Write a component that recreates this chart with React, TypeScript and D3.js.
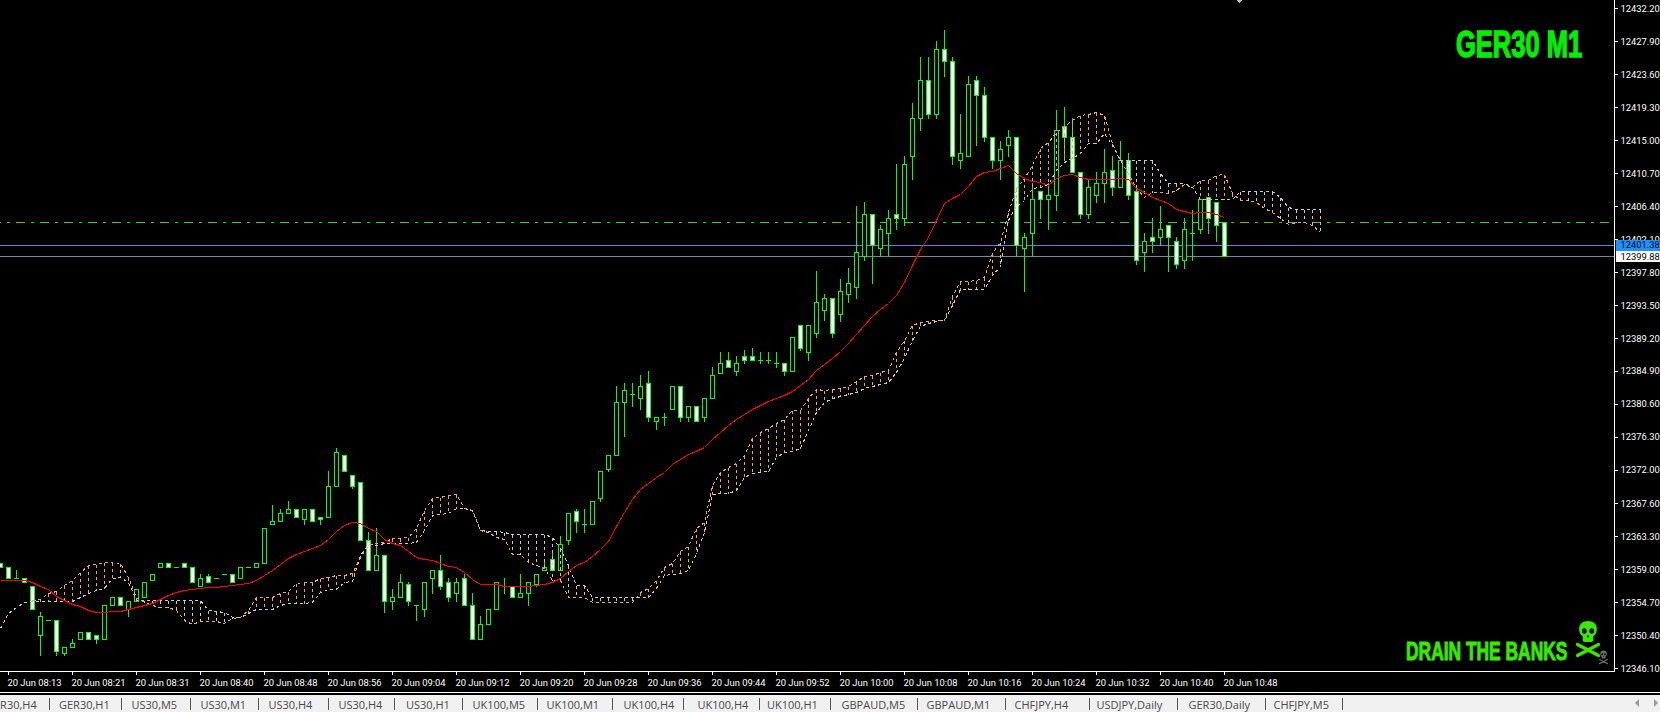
import React from "react";
import * as d3 from "d3";

const OPEN = [12359.88,12359.38,12357.88,12357.88,12356.88,12350.38,12352.38,12352.38,12348.13,12348.88,12349.88,12350.88,12350.38,12349.88,12354.38,12355.38,12353.88,12354.88,12355.38,12357.63,12359.38,12359.88,12359.38,12359.88,12359.38,12356.88,12358.08,12357.88,12358.38,12358.38,12357.88,12359.38,12359.38,12359.88,12364.88,12365.38,12366.38,12366.88,12365.58,12366.88,12365.88,12365.88,12369.88,12373.88,12371.38,12370.38,12362.88,12358.88,12360.88,12354.88,12355.38,12357.08,12354.38,12353.88,12357.88,12358.88,12357.38,12355.88,12357.88,12354.38,12349.88,12351.88,12353.88,12356.88,12356.88,12355.38,12355.88,12357.08,12358.88,12360.38,12358.88,12362.88,12366.58,12364.88,12364.88,12368.38,12372.08,12373.88,12380.88,12381.88,12381.38,12383.38,12378.38,12378.88,12379.88,12382.88,12378.88,12380.38,12378.88,12381.38,12384.58,12386.38,12384.88,12386.88,12386.88,12386.38,12386.38,12385.88,12385.88,12384.88,12390.88,12387.38,12389.88,12392.88,12394.38,12392.38,12394.88,12395.88,12399.88,12405.38,12400.88,12402.88,12405.38,12404.88,12412.88,12417.88,12422.88,12418.38,12426.88,12425.38,12412.38,12412.88,12422.88,12420.88,12415.38,12412.38,12414.38,12415.38,12400.88,12402.88,12408.38,12407.38,12407.88,12416.88,12415.38,12410.88,12405.38,12407.88,12409.38,12411.08,12408.88,12412.38,12408.38,12400.38,12402.38,12402.38,12403.88,12401.88,12399.38,12402.88,12403.38,12407.63,12406.88,12404.38];
const HIGH = [12359.88,12359.38,12358.88,12357.88,12356.88,12353.38,12352.38,12352.38,12348.88,12349.88,12350.88,12350.88,12350.38,12354.38,12355.38,12355.38,12354.88,12356.38,12357.38,12358.38,12359.88,12359.88,12359.38,12359.88,12359.38,12358.38,12358.38,12357.88,12358.38,12358.38,12359.38,12359.38,12359.88,12364.38,12367.38,12366.88,12367.88,12366.88,12366.88,12366.88,12365.88,12371.88,12374.88,12373.88,12371.38,12370.38,12363.88,12364.38,12360.88,12356.38,12358.38,12357.38,12354.38,12357.38,12358.88,12360.88,12357.88,12357.88,12358.38,12355.88,12352.88,12353.88,12357.38,12357.88,12356.88,12358.38,12357.38,12358.38,12360.38,12361.18,12363.38,12366.38,12366.88,12366.88,12367.88,12371.88,12373.88,12382.88,12383.38,12383.38,12384.38,12384.88,12378.88,12379.38,12382.88,12382.88,12380.38,12380.38,12381.38,12385.38,12387.38,12387.38,12386.88,12387.68,12387.88,12387.38,12387.38,12387.38,12385.88,12389.38,12390.88,12390.88,12397.88,12394.88,12394.38,12396.88,12398.38,12406.38,12406.88,12405.38,12403.88,12405.88,12411.88,12412.88,12419.88,12425.88,12425.88,12427.88,12429.38,12425.88,12418.38,12423.38,12423.38,12421.88,12415.38,12414.88,12416.38,12415.38,12402.88,12409.38,12408.38,12409.38,12418.88,12419.38,12417.88,12410.88,12409.88,12410.88,12413.88,12412.88,12414.88,12413.38,12408.88,12402.88,12404.88,12406.38,12403.88,12402.38,12404.88,12405.88,12407.38,12407.63,12406.88,12404.38];
const LOW = [12359.38,12357.88,12357.88,12357.38,12353.88,12347.88,12352.38,12347.88,12347.88,12348.88,12349.88,12349.88,12349.38,12349.88,12354.38,12354.38,12352.88,12354.88,12355.38,12357.63,12359.38,12359.38,12359.38,12359.38,12357.38,12356.88,12357.38,12357.88,12358.38,12357.38,12357.88,12359.38,12359.38,12359.88,12364.88,12365.38,12366.38,12365.88,12364.88,12365.38,12364.88,12365.88,12369.88,12371.88,12369.68,12362.88,12358.88,12358.88,12353.38,12353.88,12355.38,12354.38,12352.38,12352.88,12355.88,12356.38,12354.88,12354.88,12354.38,12349.88,12349.88,12351.88,12353.88,12355.88,12355.38,12355.38,12354.38,12356.88,12358.88,12358.88,12358.88,12362.38,12363.88,12363.88,12364.88,12367.88,12371.88,12373.88,12376.38,12380.38,12379.88,12378.38,12377.38,12377.88,12379.88,12378.38,12378.38,12378.38,12378.38,12381.38,12384.58,12385.38,12384.38,12385.88,12386.38,12385.88,12385.88,12385.38,12384.38,12384.88,12387.68,12386.38,12389.38,12391.58,12389.38,12391.38,12393.88,12394.38,12399.38,12396.38,12399.88,12399.88,12403.38,12403.88,12409.88,12416.38,12417.88,12417.88,12423.38,12411.88,12411.38,12412.88,12414.38,12414.88,12411.38,12409.88,12412.88,12399.88,12395.38,12399.88,12404.88,12403.38,12405.88,12412.38,12410.88,12404.88,12404.88,12406.88,12406.88,12407.88,12408.88,12407.38,12398.88,12397.88,12400.38,12401.38,12397.88,12398.38,12398.38,12399.38,12402.88,12402.88,12401.88,12399.88];
const CLOSE = [12359.38,12357.88,12357.88,12357.38,12353.88,12352.88,12352.38,12348.38,12348.88,12349.38,12350.88,12349.88,12349.88,12354.38,12355.38,12354.38,12354.88,12356.38,12357.38,12358.38,12359.88,12359.38,12359.38,12359.38,12357.38,12357.88,12357.38,12357.88,12358.38,12357.38,12359.38,12359.38,12359.88,12364.38,12365.38,12366.38,12366.88,12365.88,12366.88,12365.38,12365.63,12369.88,12374.38,12371.88,12369.88,12362.88,12358.88,12360.88,12354.88,12355.38,12357.38,12354.88,12354.38,12357.38,12358.88,12356.88,12355.38,12357.38,12354.38,12349.88,12351.88,12353.88,12357.38,12356.88,12355.38,12355.88,12357.38,12358.38,12359.38,12358.88,12362.38,12366.38,12365.38,12364.88,12367.88,12371.88,12373.88,12380.88,12382.38,12381.88,12382.88,12378.88,12378.88,12378.88,12382.88,12378.88,12380.38,12378.38,12381.38,12384.38,12385.88,12385.38,12385.88,12386.38,12386.38,12386.38,12386.38,12385.88,12384.88,12389.38,12387.88,12390.88,12393.88,12394.38,12389.88,12395.38,12396.38,12400.38,12405.38,12401.38,12403.38,12404.88,12404.88,12411.88,12417.88,12422.88,12418.38,12426.88,12425.38,12412.88,12413.38,12422.38,12420.88,12415.38,12412.38,12413.88,12415.38,12401.38,12402.38,12407.38,12407.38,12407.88,12416.38,12415.38,12410.88,12405.38,12408.88,12409.38,12410.88,12408.88,12412.38,12407.88,12399.38,12401.88,12401.88,12403.38,12402.38,12398.88,12403.38,12402.88,12407.38,12404.88,12403.88,12399.88];
const RED_MA = [12357.58,12357.58,12357.66,12357.58,12357.32,12356.80,12356.41,12355.57,12354.97,12354.49,12354.19,12353.71,12353.41,12353.44,12353.61,12353.61,12353.84,12354.14,12354.32,12354.58,12355.10,12355.66,12356.05,12356.31,12356.41,12356.54,12356.67,12356.67,12356.88,12356.97,12357.14,12357.27,12357.58,12358.23,12358.92,12359.71,12360.49,12361.01,12361.44,12361.75,12362.15,12363.01,12363.97,12364.75,12365.15,12365.02,12364.36,12364.05,12363.01,12362.41,12362.15,12361.44,12360.66,12360.40,12360.23,12359.84,12359.41,12359.27,12358.70,12357.75,12357.14,12357.06,12357.06,12356.88,12356.80,12356.80,12356.84,12357.01,12357.14,12357.32,12357.84,12358.79,12359.57,12360.01,12360.75,12361.70,12362.75,12364.62,12366.53,12368.19,12369.45,12370.23,12371.02,12371.75,12372.79,12373.44,12374.06,12374.45,12375.01,12375.97,12376.96,12377.84,12378.62,12379.27,12379.89,12380.45,12381.01,12381.40,12381.75,12382.31,12383.06,12383.84,12385.01,12385.80,12386.58,12387.49,12388.54,12389.71,12390.88,12392.06,12392.97,12393.75,12394.80,12396.45,12398.71,12400.80,12402.40,12404.58,12406.76,12407.41,12407.97,12409.06,12410.36,12410.84,12410.93,12411.33,12411.72,12410.75,12410.02,12409.71,12409.50,12409.19,12410.02,12410.41,12410.54,12410.15,12409.89,12409.89,12409.89,12409.93,12410.02,12409.89,12408.72,12408.19,12407.58,12407.19,12406.76,12405.98,12405.79,12405.49,12405.59,12405.59,12405.36,12404.93];
// first bar of the orange span is bar 4
const SPAN_A_FIRST_BAR = 4;
const SPAN_A = [12355.01,12355.18,12355.96,12356.22,12356.97,12357.62,12358.70,12359.57,12359.71,12360.01,12360.01,12359.88,12358.05,12355.44,12354.79,12354.36,12354.14,12354.06,12353.71,12352.40,12351.88,12352.31,12352.31,12352.23,12352.05,12352.62,12352.83,12353.71,12355.36,12355.44,12355.44,12355.96,12356.22,12357.27,12357.36,12357.32,12357.84,12357.97,12358.23,12358.27,12358.49,12360.66,12362.18,12362.41,12362.62,12363.06,12363.06,12363.19,12364.36,12366.75,12368.36,12368.41,12368.71,12368.80,12366.97,12366.75,12364.14,12363.92,12363.27,12362.93,12361.01,12361.01,12360.01,12359.57,12359.15,12357.62,12357.62,12355.44,12355.36,12355.36,12354.79,12354.71,12354.71,12354.71,12354.71,12354.71,12356.01,12356.54,12357.62,12359.35,12359.80,12361.40,12362.05,12364.36,12365.23,12370.01,12371.75,12372.40,12372.92,12373.93,12376.10,12376.96,12377.41,12378.06,12378.62,12379.80,12379.80,12381.32,12382.57,12382.40,12382.53,12382.67,12382.93,12383.58,12384.23,12384.36,12384.75,12385.01,12387.36,12388.93,12390.88,12391.28,12391.41,12391.54,12391.54,12394.67,12396.66,12396.66,12396.75,12397.18,12400.24,12401.75,12405.62,12408.76,12410.06,12411.76,12413.93,12414.80,12416.10,12416.84,12417.63,12418.28,12418.41,12418.71,12418.28,12414.59,12412.41,12410.67,12408.72,12407.62,12408.28,12408.28,12408.06,12408.49,12409.28,12408.93,12409.80,12409.80,12410.39,12410.58,12408.06,12407.19,12407.19,12406.97,12406.11,12405.66,12404.80,12404.06,12404.36,12404.36,12403.93,12403.05];
const SPAN_B = [12351.32,12353.28,12354.14,12354.79,12354.88,12354.88,12354.88,12354.88,12354.88,12354.88,12355.44,12355.88,12356.31,12356.54,12357.84,12358.05,12357.40,12355.01,12355.01,12355.01,12355.01,12355.01,12355.01,12355.01,12355.01,12355.01,12353.71,12353.61,12353.44,12352.83,12352.83,12353.28,12353.80,12353.80,12353.87,12354.36,12354.58,12354.58,12354.58,12354.79,12356.09,12356.41,12356.41,12357.40,12357.49,12360.88,12362.32,12362.18,12362.41,12362.41,12362.41,12362.49,12362.62,12364.14,12366.10,12366.23,12366.40,12366.97,12366.97,12366.75,12364.14,12364.01,12364.01,12363.92,12363.58,12363.58,12363.58,12363.58,12363.58,12363.27,12361.75,12359.57,12356.97,12356.97,12355.36,12355.36,12355.36,12355.36,12355.36,12355.36,12355.36,12355.36,12356.54,12358.27,12358.36,12358.49,12358.92,12361.10,12363.92,12368.84,12368.93,12368.93,12369.36,12371.09,12371.54,12371.67,12371.84,12373.70,12374.28,12374.45,12374.80,12377.19,12379.57,12380.84,12381.36,12381.62,12381.88,12382.14,12382.67,12382.93,12383.19,12383.45,12384.75,12386.58,12388.93,12390.75,12391.14,12391.41,12391.54,12393.49,12395.54,12395.54,12395.54,12395.54,12397.41,12398.62,12404.58,12406.47,12407.19,12408.72,12408.93,12409.24,12411.10,12412.11,12412.71,12413.28,12414.59,12414.59,12415.89,12414.36,12412.37,12412.37,12412.37,12412.37,12412.37,12410.67,12409.37,12409.37,12409.37,12408.93,12407.32,12407.32,12407.32,12407.32,12407.32,12408.32,12408.32,12408.32,12408.32,12408.32,12407.62,12406.24,12406.06,12406.06,12406.06,12406.06];
const PRICE_LABELS = ["12432.20","12427.90","12423.60","12419.30","12415.00","12410.70","12406.40","12402.10","12397.80","12393.50","12389.20","12384.90","12380.60","12376.30","12372.00","12367.60","12363.30","12359.00","12354.70","12350.40","12346.10"];
const TIME_LABELS = ["20 Jun 08:13","20 Jun 08:21","20 Jun 08:31","20 Jun 08:40","20 Jun 08:48","20 Jun 08:56","20 Jun 09:04","20 Jun 09:12","20 Jun 09:20","20 Jun 09:28","20 Jun 09:36","20 Jun 09:44","20 Jun 09:52","20 Jun 10:00","20 Jun 10:08","20 Jun 10:16","20 Jun 10:24","20 Jun 10:32","20 Jun 10:40","20 Jun 10:48"];
const TIME_LABEL_BARS = TIME_LABELS.map((_, k) => 1 + 8 * k);
const ASK_PRICE = 12401.38;
const BID_PRICE = 12399.88;
const LEVEL_PRICE = 12404.28;
const TAB_LABELS = ["GER30,H4","GER30,H1","US30,M5","US30,M1","US30,H4","US30,H4","US30,H1","UK100,M5","UK100,M1","UK100,H4","UK100,H4","UK100,H1","GBPAUD,M5","GBPAUD,M1","CHFJPY,H4","USDJPY,Daily","GER30,Daily","CHFJPY,M5"];

const W = 1660, H = 712;
const AXIS_X = 1614, AXIS_Y = 671;
const GREEN = "#00ff00", ORANGE = "#f4a460", THISTLE = "#d8bfd8";
const UI_FONT = "Roboto, 'Noto Sans', sans-serif";
const DISPLAY_FONT = "'Liberation Sans', sans-serif";

const y = d3.scaleLinear().domain([12346.1, 12432.2]).range([668.8, 8.8]);
const x = d3.scaleLinear().domain([0, 1]).range([0.5, 8.5]);
const py = (p: number) => Math.round(y(p) - 0.5) + 0.5;

// tab bar layout: left edge of each tab's separator, text follows it
const TAB_SEPS = [49, 121, 189.5, 258, 328, 394, 461.5, 537, 612, 683, 759, 830, 917, 1005, 1089, 1177, 1265, 1342];
const TAB_TEXT = [-14, 59, 131.5, 200.5, 268.5, 338.5, 406, 472.5, 546.5, 623.5, 697.5, 767, 841.5, 926.5, 1014.5, 1096.5, 1188.5, 1273.5];

const lineThrough = d3.line<[number, number]>().x(d => d[0]).y(d => d[1]);

function Skull({ tx, ty, s, fill }: { tx: number; ty: number; s: number; fill: string }) {
  const t = `translate(${tx},${ty}) scale(${s})`;
  return (
    <g transform={t}>
      <path d="M12 0C5 0 2.8 4.5 3.2 9c.2 3 1.5 5 3.5 6.2V19c0 1 1 2 2 2h6.600c1 0 2-1 2-2v-3.800c2-1.200 3.300-3.200 3.500-6.200C21.200 4.500 19 0 12 0Z" fill={fill} />
      <ellipse cx="8.300" cy="10" rx="2.300" ry="2.700" fill="#000" />
      <ellipse cx="15.700" cy="10" rx="2.300" ry="2.700" fill="#000" />
      <rect x="11.200" y="14" width="1.600" height="2.400" fill="#000" />
      <path d="M1.500 23.500 22.500 34.500M22.500 23.500 1.500 34.500" stroke={fill} strokeWidth="3.200" strokeLinecap="round" />
    </g>
  );
}

export default function App() {
  const bars = OPEN.map((o, i) => ({ i, o, h: HIGH[i], l: LOW[i], c: CLOSE[i] }));
  const spanABars = SPAN_A.map((v, k) => [x(k + SPAN_A_FIRST_BAR), py(v)] as [number, number]);
  const spanBBars = SPAN_B.map((v, i) => [x(i), py(v)] as [number, number]);
  const hatch = SPAN_B.map((b, i) => {
    const a = SPAN_A[i - SPAN_A_FIRST_BAR];
    return a === undefined ? null : { i, a, b };
  }).filter(Boolean) as { i: number; a: number; b: number }[];
  const maPts = RED_MA.map((v, i) => [x(i), py(v)] as [number, number]);

  return (
    <svg width={W} height={H} viewBox={`0 0 ${W} ${H}`} style={{ position: "absolute", left: 0, top: 0, display: "block", background: "#000" }}>
      <g shapeRendering="crispEdges">
        <line x1={-8} x2={AXIS_X} y1={py(LEVEL_PRICE)} y2={py(LEVEL_PRICE)} stroke="#32cd32" strokeDasharray="9 6 3 6" />
        <line x1={0} x2={AXIS_X} y1={py(ASK_PRICE)} y2={py(ASK_PRICE)} stroke="#3a8fe0" />
        <line x1={0} x2={AXIS_X} y1={py(BID_PRICE)} y2={py(BID_PRICE)} stroke="#778899" />

        {bars.map(b => {
          const cx = x(b.i);
          const top = py(Math.max(b.o, b.c));
          const bot = py(Math.min(b.o, b.c));
          return (
            <g key={b.i}>
              <line x1={cx} x2={cx} y1={py(b.h) - 0.5} y2={py(b.l) + 0.5} stroke={GREEN} />
              {b.o === b.c ? (
                <line x1={cx - 2.5} x2={cx + 2.5} y1={top} y2={top} stroke={GREEN} />
              ) : (
                <rect x={cx - 2} y={top} width={4} height={Math.max(bot - top, 1)} fill={b.c < b.o ? "#fff" : "#000"} stroke={GREEN} />
              )}
            </g>
          );
        })}

        {hatch.map(d => (
          <line key={d.i} x1={x(d.i)} x2={x(d.i)} y1={py(Math.max(d.a, d.b))} y2={py(Math.min(d.a, d.b))}
            stroke={d.a >= d.b ? ORANGE : THISTLE} strokeDasharray="3 3" />
        ))}
        <path d={lineThrough(spanBBars) ?? ""} fill="none" stroke={THISTLE} strokeDasharray="3 3" />
        <path d={lineThrough(spanABars) ?? ""} fill="none" stroke={ORANGE} strokeDasharray="3 3" />
        <path d={lineThrough(maPts) ?? ""} fill="none" stroke="#ff0000" />

        <path d="M1236 0h6l-3 3z" fill="#c0c0c0" />

        <line x1={AXIS_X + 0.5} x2={AXIS_X + 0.5} y1={0} y2={AXIS_Y + 1} stroke="#fff" />
        <line x1={0} x2={AXIS_X + 1} y1={AXIS_Y + 0.5} y2={AXIS_Y + 0.5} stroke="#fff" />
        {PRICE_LABELS.map(l => (
          <line key={l} x1={AXIS_X} x2={AXIS_X + 4} y1={py(+l)} y2={py(+l)} stroke="#fff" />
        ))}
        {TIME_LABEL_BARS.map(i => (
          <line key={i} x1={x(i)} x2={x(i)} y1={AXIS_Y} y2={AXIS_Y + 4} stroke="#fff" />
        ))}
      </g>

      <g fill="#fff" fontFamily={UI_FONT} fontSize={9.4}>
        {PRICE_LABELS.map(l => (
          <text key={l} x={1620.5} y={y(+l) + 3.1}>{l}</text>
        ))}
        {TIME_LABELS.map((l, k) => (
          <text key={k} x={x(TIME_LABEL_BARS[k]) - 1} y={685.5}>{l}</text>
        ))}
      </g>

      <rect x={AXIS_X + 2} y={240} width={W - AXIS_X - 2} height={11} fill="#1e90ff" />
      <text x={1620.5} y={y(ASK_PRICE) + 3} fontFamily={UI_FONT} fontSize={9.4} fill="#000">{ASK_PRICE.toFixed(2)}</text>
      <rect x={AXIS_X + 2} y={251} width={W - AXIS_X - 2} height={11} fill="#fff" />
      <text x={1620.5} y={y(BID_PRICE) + 3} fontFamily={UI_FONT} fontSize={9.4} fill="#000">{BID_PRICE.toFixed(2)}</text>

      <text transform="translate(1456,57) scale(0.708,1)" fontFamily={DISPLAY_FONT} fontWeight="bold" fontSize={36}
        fill="#00f000" stroke="#00f000" strokeWidth={1.4}>GER30 M1</text>
      <text transform="translate(1406,660) scale(0.68,1)" fontFamily={DISPLAY_FONT} fontWeight="bold" fontSize={25.6}
        fill="#38ea00" stroke="#38ea00" strokeWidth={1}>DRAIN THE BANKS</text>
      <Skull tx={1576} ty={621} s={1} fill="#38ea00" />
      <Skull tx={1599} ty={650.5} s={0.38} fill="#6a6a6a" />

      <line x1={0} x2={W} y1={692.5} y2={692.5} stroke="#fff" />
      <rect x={0} y={695} width={W} height={17} fill="#f0f0f0" />
      <g fontFamily="'Open Sans', 'Noto Sans', sans-serif" fontSize={11} fill="#4a4a4a">
        {TAB_LABELS.map((l, i) => (
          <text key={i} x={TAB_TEXT[i]} y={708.5}>{l}</text>
        ))}
      </g>
      <g stroke="#555" shapeRendering="crispEdges">
        {TAB_SEPS.map((s, i) => (
          <line key={i} x1={s + 0.5} x2={s + 0.5} y1={698} y2={710} />
        ))}
      </g>
      <path d="M1639 699v8l-4-4z" fill="#999" />
      <path d="M1654 699v8l4-4z" fill="#999" />
    </svg>
  );
}
